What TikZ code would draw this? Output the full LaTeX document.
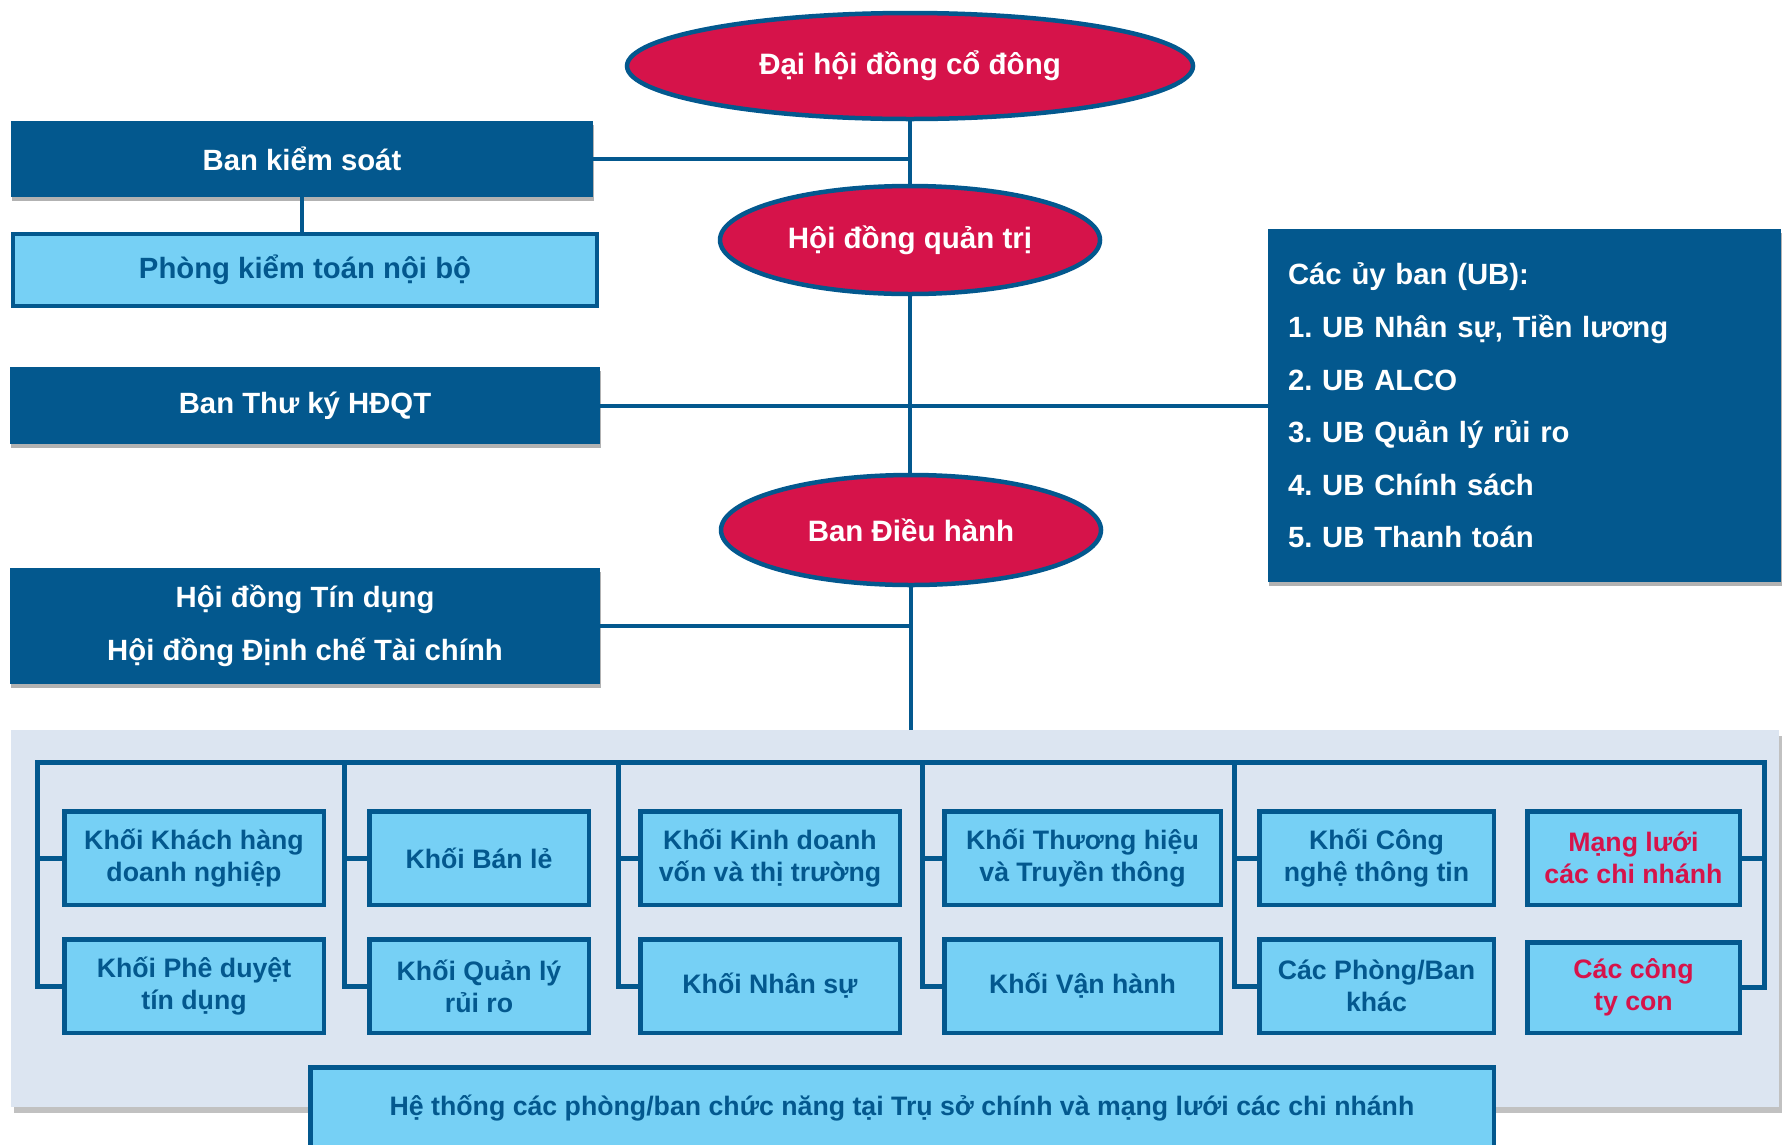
\documentclass[tikz,border=0pt]{standalone}
\usepackage{fontspec}
\setmainfont{Liberation Sans}
\usetikzlibrary{shapes.geometric,shadows}
\definecolor{dblue}{RGB}{3,88,142}
\definecolor{cred}{RGB}{214,19,74}
\definecolor{lblue}{RGB}{118,208,245}
\definecolor{panelc}{RGB}{220,229,241}
\frenchspacing
\begin{document}
\frenchspacing
\begin{tikzpicture}[x=1pt,y=-1pt,
  ell/.style={ellipse, draw=dblue, line width=4.5pt, fill=cred, text=white,
    font=\fontsize{29.5}{34}\selectfont\bfseries, inner sep=0pt},
  dbox/.style={rectangle, fill=dblue, text=white, font=\fontsize{29.3}{53}\selectfont\bfseries,
    align=center, inner sep=0pt,
    drop shadow={shadow xshift=1pt, shadow yshift=-4pt, opacity=0.3, fill=black}},
  lbox/.style={rectangle, draw=dblue, line width=4.5pt, fill=lblue, text=dblue,
    font=\fontsize{26.7}{32}\selectfont\bfseries, align=center, inner sep=0pt},
  redtext/.style={text=cred},
  panelbox/.style={rectangle, fill=panelc, inner sep=0pt,
    drop shadow={shadow xshift=3pt, shadow yshift=-6pt, opacity=0.35, fill=black!70}},
  conn/.style={draw=dblue, line width=4pt},
  bus/.style={draw=dblue, line width=5pt, line cap=rect},
]
\useasboundingbox (0,0) rectangle (1785,1144);
\clip (0,0) rectangle (1785,1144);

% background panel
\node[panelbox, minimum width=1768pt, minimum height=377pt] (panel) at (895,918.5) {};

% ellipses
\node[ell, minimum width=566pt, minimum height=106pt] (dhd) at (910,66) {Đại hội đồng cổ đông};
\node[ell, minimum width=380pt, minimum height=108pt] (hdqt) at (910,240) {Hội đồng quản trị};
\node[ell, minimum width=380pt, minimum height=110pt] (bdh) at (911,530) {Ban Điều hành};

% left boxes
\node[dbox, minimum width=582pt, minimum height=76pt] (bks) at (302,159) {Ban kiểm soát};
\node[lbox, minimum width=584pt, minimum height=72pt, font=\fontsize{29.3}{34}\selectfont\bfseries] (pkt) at (305,270) {Phòng kiểm toán nội bộ};
\node[dbox, minimum width=590pt, minimum height=77pt] (btk) at (305,405.5) {Ban Thư ký HĐQT};
\node[dbox, minimum width=590pt, minimum height=116pt] (hdtd) at (305,626) {Hội đồng Tín dụng\\Hội đồng Định chế Tài chính};

% committees box
\node[dbox, minimum width=513pt, minimum height=353pt, text width=473pt, align=left,
  font=\fontsize{29.3}{52.6}\selectfont\bfseries] (ub) at (1524.5,405.5)
  {Các ủy ban (UB):\\1. UB Nhân sự, Tiền lương\\2. UB ALCO\\3. UB Quản lý rủi ro\\4. UB Chính sách\\5. UB Thanh toán};

% connectors top part
\draw[conn] (bks.east) -- (bks.east -| dhd.south);
\draw[conn] (dhd.south) -- (hdqt.north);
\draw[conn] (bks.south) -- (bks.south |- pkt.north);
\draw[conn] (hdqt.south) -- (hdqt.south |- bdh.north);
\draw[conn] (btk.east) -- (ub.west);
\draw[conn] (hdtd.east) -- (hdtd.east -| bdh.south);
\draw[conn] (bdh.south) -- (bdh.south |- panel.north);

% panel boxes
\node[lbox, minimum width=259.5pt, minimum height=93.5pt] (k11) at (194,858) {Khối Khách hàng\\doanh nghiệp};
\node[lbox, minimum width=259.5pt, minimum height=93.5pt] (k12) at (194,986) {Khối Phê duyệt\\tín dụng};
\node[lbox, minimum width=219.5pt, minimum height=93.5pt] (k21) at (479,858) {Khối Bán lẻ};
\node[lbox, minimum width=219.5pt, minimum height=93.5pt] (k22) at (479,986) {Khối Quản lý\\rủi ro};
\node[lbox, minimum width=259.5pt, minimum height=93.5pt] (k31) at (770,858) {Khối Kinh doanh\\vốn và thị trường};
\node[lbox, minimum width=259.5pt, minimum height=93.5pt] (k32) at (770,986) {Khối Nhân sự};
\node[lbox, minimum width=276.5pt, minimum height=93.5pt] (k41) at (1082.5,858) {Khối Thương hiệu\\và Truyền thông};
\node[lbox, minimum width=276.5pt, minimum height=93.5pt] (k42) at (1082.5,986) {Khối Vận hành};
\node[lbox, minimum width=234.5pt, minimum height=93.5pt] (k51) at (1376.5,858) {Khối Công\\nghệ thông tin};
\node[lbox, minimum width=234.5pt, minimum height=93.5pt] (k52) at (1376.5,986) {Các Phòng/Ban\\khác};
\node[lbox, redtext, minimum width=212.5pt, minimum height=93.5pt] (k61) at (1633.5,858) {Mạng lưới\\các chi nhánh};
\node[lbox, redtext, minimum width=212.5pt, minimum height=90.5pt] (k62) at (1633.5,987.5) {Các công\\ty con};

% bus
\coordinate (b1) at (37,762);
\coordinate (b2) at (344,762);
\coordinate (b3) at (618,762);
\coordinate (b4) at (922,762);
\coordinate (b5) at (1234,762);
\coordinate (b6) at (1764,762);
\draw[bus] (b1) -- (b6);
\draw[bus] (b1) |- (k11.west);
\draw[bus] (b1) |- (k12.west);
\draw[bus] (b2) |- (k21.west);
\draw[bus] (b2) |- (k22.west);
\draw[bus] (b3) |- (k31.west);
\draw[bus] (b3) |- (k32.west);
\draw[bus] (b4) |- (k41.west);
\draw[bus] (b4) |- (k42.west);
\draw[bus] (b5) |- (k51.west);
\draw[bus] (b5) |- (k52.west);
\draw[bus] (b6) |- (k61.east);
\draw[bus] (b6) |- (k62.east);

% bottom box
\node[lbox, minimum width=1183.5pt, minimum height=81.5pt] (hts) at (902,1108) {Hệ thống các phòng/ban chức năng tại Trụ sở chính và mạng lưới các chi nhánh};
\end{tikzpicture}
\end{document}
